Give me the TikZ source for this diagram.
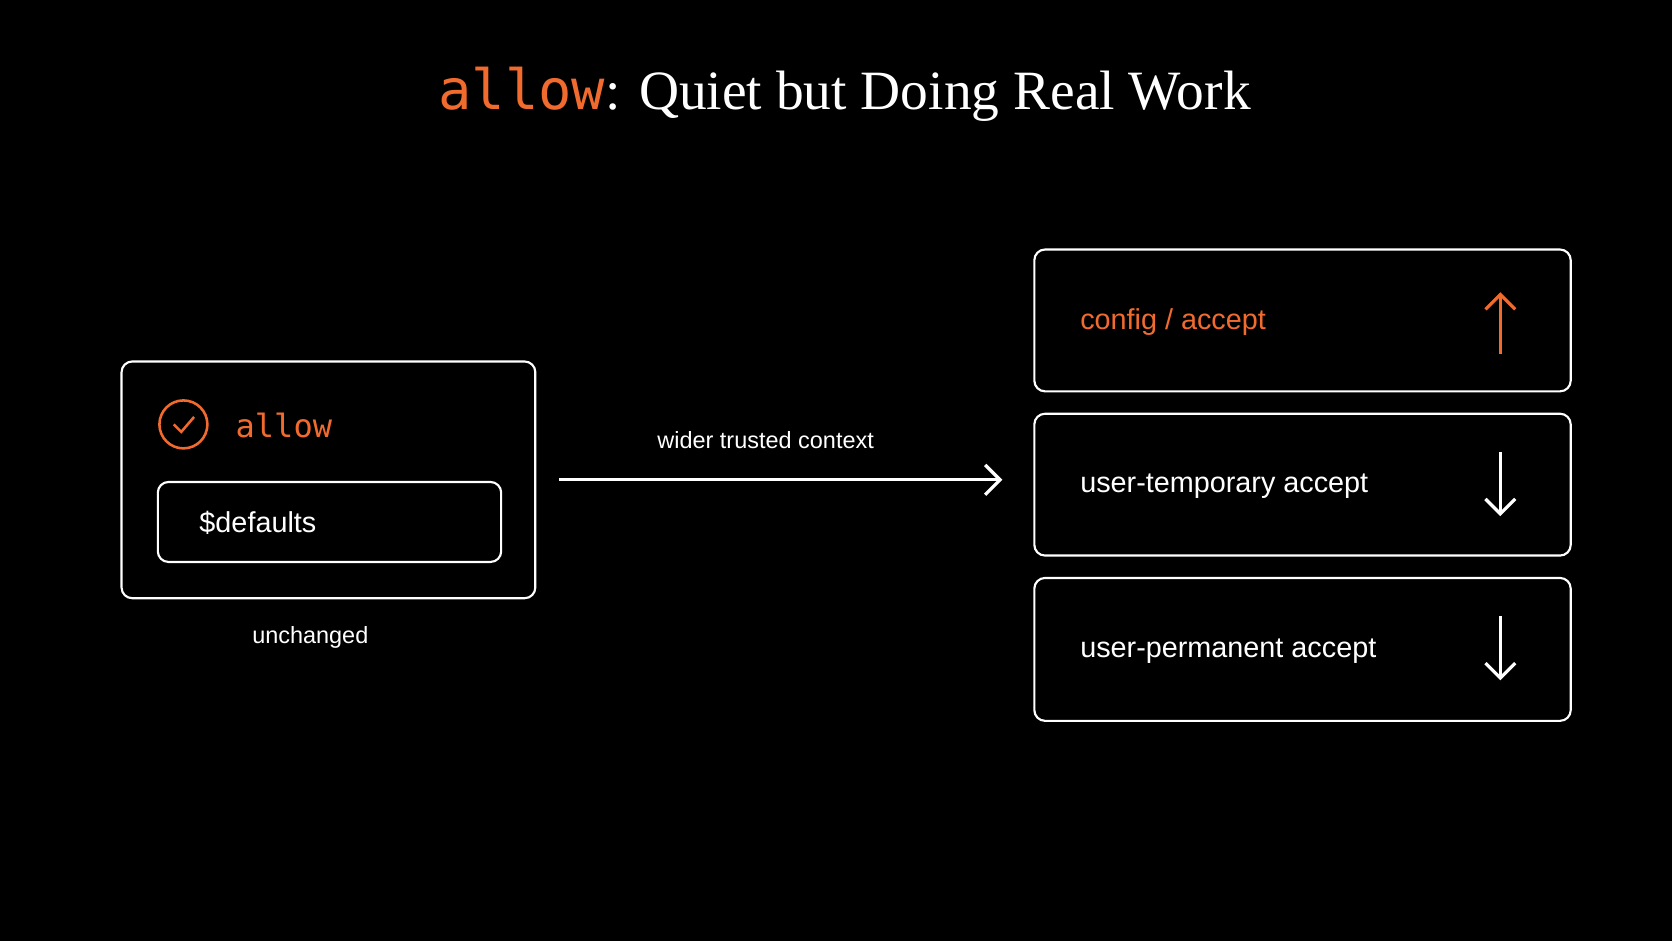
\documentclass[tikz,border=0pt]{standalone}
\usepackage{fontspec}
\setmainfont{Liberation Serif}
\setsansfont{Liberation Sans}
\setmonofont{DejaVu Sans Mono}
\usetikzlibrary{arrows.meta}
\definecolor{org}{HTML}{F26B2E}
\begin{document}
\begin{tikzpicture}[x=0.5pt,y=-0.5pt,
  box/.style={draw=white,line width=1pt,rounded corners=5pt},
  lbl/.style={font=\sffamily\fontsize{13.5}{16}\selectfont,text=white,anchor=west},
  small/.style={font=\sffamily\fontsize{11}{13}\selectfont,text=white},
  arr/.style={line width=1.5pt,-{Straight Barb[length=7pt,width=14pt]}}]
\fill[black] (0,0) rectangle (1568,882);
\useasboundingbox (0,0) rectangle (1568,882);
\node (title) at (792,88) {\fontsize{26}{30}\selectfont\textcolor{org}{\ttfamily allow}\textcolor{white}{: Quiet but Doing Real Work}};
% left
\draw[box] (114,339) rectangle (502,561);
\node[draw=org,circle,line width=1.2pt,minimum size=22.5pt,inner sep=0pt] (chk) at (172,398) {};
\draw[org,line width=1.2pt] (163,398) -- (170,405) -- (182,391);
\node[anchor=west,text=org,font=\ttfamily\fontsize{15}{18}\selectfont] (al) at (214,399) {allow};
\node[box,minimum width=161pt,minimum height=37.5pt] (def) at (309,489.5) {};
\node[lbl] (deft) at (180,490) {\$defaults};
\node[small] (unch) at (291,598) {unchanged};
% arrow
\coordinate (a1) at (524,450);
\coordinate (a2) at (940,450);
\draw[white,arr] (a1) -- (a2);
\node[small] (wtc) at (718,413) {wider trusted context};
% right
\draw[box] (970,234) rectangle (1473,367);
\draw[box] (970,388) rectangle (1473,521);
\draw[box] (970,542) rectangle (1473,676);
\node[lbl,text=org] (c1) at (1006,302) {config / accept};
\node[lbl] (c2) at (1006,456) {user-temporary accept};
\node[lbl] (c3) at (1006,611) {user-permanent accept};
\coordinate (u1) at (1407,332); \coordinate (u2) at (1407,274);
\draw[org,arr] (u1) -- (u2);
\coordinate (d1) at (1407,424); \coordinate (d2) at (1407,484);
\draw[white,arr] (d1) -- (d2);
\coordinate (e1) at (1407,578); \coordinate (e2) at (1407,638);
\draw[white,arr] (e1) -- (e2);
\end{tikzpicture}
\end{document}
